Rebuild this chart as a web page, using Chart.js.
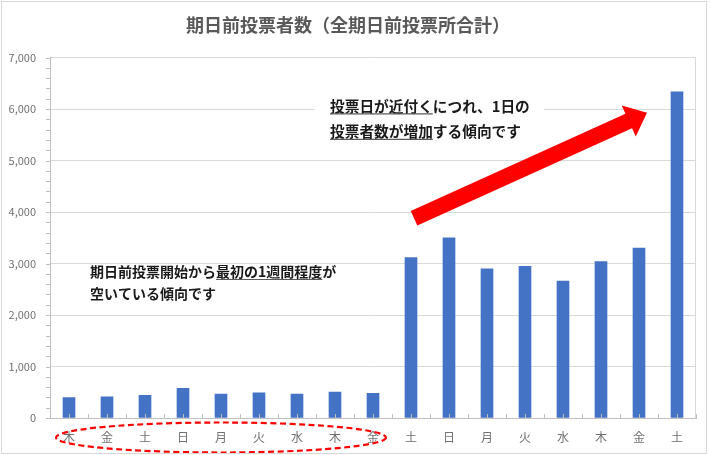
<!DOCTYPE html>
<html lang="ja">
<head>
<meta charset="utf-8">
<script src="https://cdn.jsdelivr.net/npm/chart.js@4.4.1/dist/chart.umd.min.js"></script>
<style>
  html, body { margin: 0; padding: 0; background: #fff; }
  .chartBox { position: relative; width: 710px; height: 455px; }
</style>
</head>
<body>
<div class="chartBox"><canvas id="votersChart"></canvas></div>
<script>
const days = ['木', '金', '土', '日', '月', '火', '水', '木', '金', '土', '日', '月', '火', '水', '木', '金', '土']
const voters = [395, 410, 440, 575, 465, 490, 465, 505, 480, 3115, 3500, 2895, 2945, 2660, 3040, 3300, 6335]
const yTicks = [0, 1000, 2000, 3000, 4000, 5000, 6000, 7000]
const chartTitle = '期日前投票者数（全期日前投票所合計）'

// note text, [piece, underlined]
const noteLate = [
  [['投票日が近付く', true], ['につれ、1日の', false]],
  [['投票者数が増加', true], ['する傾向です', false]]
]
const noteEarly = [
  [['期日前投票開始から', false], ['最初の1週間程度', true], ['が', false]],
  [['空いている傾向です', false]]
]

const FONT = '"Noto Sans CJK JP", "Noto Sans", sans-serif'

function drawNote (ctx, lines, x, y, lineGap, size) {
  ctx.font = 'bold ' + size + 'px ' + FONT
  ctx.textBaseline = 'middle'
  ctx.textAlign = 'left'
  lines.forEach((line, i) => {
    let cx = x
    const cy = y + i * lineGap
    line.forEach(([txt, under]) => {
      const w = ctx.measureText(txt).width
      ctx.fillStyle = '#1a1a1a'
      ctx.fillText(txt, cx, cy)
      if (under) {
        ctx.strokeStyle = '#595959'
        ctx.lineWidth = 1.2
        ctx.beginPath()
        ctx.moveTo(cx, cy + size * 0.5 + 0.5)
        ctx.lineTo(cx + w, cy + size * 0.5 + 0.5)
        ctx.stroke()
      }
      cx += w
    })
  })
}

const decorations = {
  id: 'decorations',
  beforeDraw (chart) {
    const ctx = chart.ctx
    ctx.save()
    ctx.fillStyle = '#fff'
    ctx.fillRect(0, 0, chart.width, chart.height)
    ctx.restore()
  },
  afterDraw (chart) {
    const ctx = chart.ctx
    const xs = chart.scales.x
    const ys = chart.scales.y
    const area = chart.chartArea
    ctx.save()

    // minor ticks
    ctx.strokeStyle = '#BFBFBF'
    ctx.lineWidth = 1
    ctx.beginPath()
    for (let v = 0; v <= 7000; v += 200) {
      const py = Math.round(ys.getPixelForValue(v)) + 0.5
      ctx.moveTo(area.left - 4, py)
      ctx.lineTo(area.left, py)
    }
    for (let i = 0; i <= days.length; i++) {
      const b = Math.round(xs.getPixelForValue(i - 0.5)) + 0.5
      ctx.moveTo(b, area.bottom)
      ctx.lineTo(b, area.bottom - 4)
      if (i < days.length) {
        const c = Math.round(xs.getPixelForValue(i)) + 0.5
        ctx.moveTo(c, area.bottom)
        ctx.lineTo(c, area.bottom - 4)
      }
    }
    ctx.stroke()

    // plot right edge
    ctx.strokeStyle = '#D9D9D9'
    ctx.beginPath()
    ctx.moveTo(Math.round(area.right) - 0.5, area.top)
    ctx.lineTo(Math.round(area.right) - 0.5, area.bottom)
    ctx.stroke()

    // note box (late)
    ctx.fillStyle = '#fff'
    ctx.fillRect(315, 92, 229, 54)
    drawNote(ctx, noteLate, 330, 106, 25.5, 14.7)
    drawNote(ctx, noteEarly, 90, 272, 22, 14)

    // red arrow
    const tx = xs.getPixelForValue(9.08)
    const ty = ys.getPixelForValue(3880)
    const px = xs.getPixelForValue(15.21)
    const py = ys.getPixelForValue(5930)
    const len = Math.hypot(px - tx, py - ty)
    const ux = (px - tx) / len
    const uy = (py - ty) / len
    const nx = -uy
    const ny = ux
    const sw = 8
    const hw = 17
    const hl = 20
    const hx = px - ux * hl
    const hy = py - uy * hl
    ctx.fillStyle = '#FF0000'
    ctx.beginPath()
    ctx.moveTo(tx + nx * sw, ty + ny * sw)
    ctx.lineTo(hx + nx * sw, hy + ny * sw)
    ctx.lineTo(hx + nx * hw, hy + ny * hw)
    ctx.lineTo(px, py)
    ctx.lineTo(hx - nx * hw, hy - ny * hw)
    ctx.lineTo(hx - nx * sw, hy - ny * sw)
    ctx.lineTo(tx - nx * sw, ty - ny * sw)
    ctx.closePath()
    ctx.fill()

    // dashed ellipse round the first week labels
    const x0 = xs.getPixelForValue(0)
    const x8 = xs.getPixelForValue(8)
    ctx.strokeStyle = '#FF0000'
    ctx.lineWidth = 2.2
    ctx.setLineDash([6, 3.5])
    ctx.beginPath()
    ctx.ellipse((x0 + x8) / 2, area.bottom + 19.5, (x8 - x0) / 2 + 13, 15, 0, 0, Math.PI * 2)
    ctx.stroke()
    ctx.setLineDash([])

    // outer frame
    ctx.strokeStyle = '#D9D9D9'
    ctx.lineWidth = 1
    ctx.strokeRect(1.5, 1.5, 705, 452)
    ctx.restore()
  }
}

const config = {
  type: 'bar',
  data: {
    labels: days,
    datasets: [
      {
        label: '期日前投票者数',
        data: voters,
        backgroundColor: '#4472C4',
        borderWidth: 0,
        barThickness: 12
      }
    ]
  },
  options: {
    responsive: true,
    maintainAspectRatio: false,
    animation: false,
    layout: {
      padding: { left: 0, right: 14, top: 0, bottom: 0 }
    },
    scales: {
      y: {
        min: 0,
        max: 7000,
        afterBuildTicks: (scale) => { scale.ticks = yTicks.map(v => ({ value: v })) },
        afterFit: (scale) => { scale.width = 50 },
        ticks: {
          padding: 14,
          color: '#707070',
          font: { family: FONT, size: 11 },
          callback: (v) => Number(v).toLocaleString('en-US')
        },
        grid: {
          color: '#D9D9D9',
          drawTicks: false
        },
        border: { display: true, color: '#BFBFBF' }
      },
      x: {
        afterFit: (scale) => { scale.height = 37 },
        ticks: {
          padding: 12,
          color: '#707070',
          font: { family: FONT, size: 12 }
        },
        grid: { display: false, drawTicks: false },
        border: { display: true, color: '#BFBFBF' }
      }
    },
    plugins: {
      legend: { display: false },
      tooltip: { enabled: false },
      title: {
        display: true,
        text: chartTitle,
        color: '#595959',
        font: { family: FONT, size: 18, weight: 'bold' },
        padding: { top: 14, bottom: 22 }
      }
    }
  },
  plugins: [decorations]
}

const ctx = document.getElementById('votersChart').getContext('2d')
new Chart(ctx, config)
</script>
</body>
</html>
